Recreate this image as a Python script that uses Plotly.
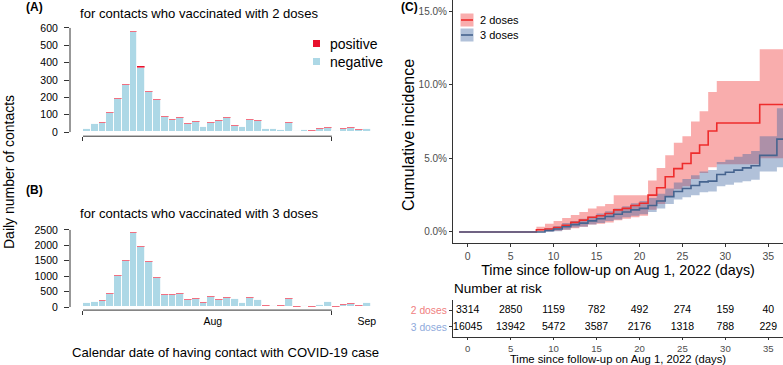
import plotly.graph_objects as go

W, H = 783, 365

# ---------------- data: panels A and B (daily contacts) ----------------
day_index = list(range(38))            # bar slots (one per calendar day)
neg_2 = [16, 45, 52, 109, 191, 272, 576, 372, 232, 185, 87, 72, 80, 47, 57, 29, 53, 62, 84,
         37, 28, 69, 66, 16, 16, 12, 55, 7, 11, 9, 18, 27, 7, 18, 26, 15, 17, 0]
pos_2 = [4, 5, 5, 6, 7, 8, 9, 8, 8, 7, 6, 6, 6, 5, 6, 4, 5, 6, 6,
         5, 4, 6, 6, 4, 4, 3, 5, 3, 4, 3, 4, 5, 3, 4, 4, 3, 3, 2]
neg_3 = [130, 153, 200, 430, 1007, 1493, 2402, 1935, 1463, 940, 385, 388, 433, 239, 262, 148, 325,
         239, 290, 251, 130, 290, 220, 50, 33, 47, 266, 17, 21, 17, 62, 160, 16, 77, 115, 52, 130, 0]
pos_3 = [20, 22, 25, 30, 38, 42, 48, 45, 42, 38, 30, 30, 32, 26, 28, 22, 30,
         26, 28, 26, 20, 28, 25, 15, 14, 15, 26, 13, 14, 13, 16, 22, 14, 18, 20, 16, 20, 10]
month_ticks = [0, 32]                  # Aug 1 / Sep 1 boundaries
month_label_pos = [16.7, 36.5]
month_labels = ["Aug", "Sep"]
yticks_2 = [0, 100, 200, 300, 400, 500, 600]
yticks_3 = [0, 500, 1000, 1500, 2000, 2500]

# ---------------- data: panel C (cumulative incidence, %) ----------------
t_2 = [-1, 8, 9, 10, 11, 12, 13, 14, 15, 16, 17, 18, 19, 20, 21, 22, 23, 24, 25, 26, 27, 28, 29, 34, 37]
est_2 = [0, 0.15, 0.2, 0.3, 0.45, 0.65, 0.8, 1.0, 1.1, 1.25, 1.5, 1.6, 1.8, 1.95, 2.5, 3.0, 3.75, 4.3,
         4.65, 5.35, 5.9, 6.85, 7.4, 8.65, 8.65]
up_2 = [0, 0.35, 0.55, 0.75, 0.95, 1.15, 1.35, 1.6, 1.75, 1.9, 2.5, 2.5, 2.5, 2.5, 3.5, 4.35, 5.2, 6.05,
        6.5, 7.5, 8.2, 9.5, 10.25, 12.4, 12.4]
lo_2 = [0, 0.02, 0.05, 0.08, 0.15, 0.25, 0.35, 0.5, 0.55, 0.65, 0.8, 0.9, 1.0, 1.1, 1.5, 1.9, 2.4, 2.9,
        3.1, 3.6, 4.0, 4.4, 4.6, 5.0, 5.0]
t_3 = [-1, 9, 10, 11, 12, 13, 14, 15, 16, 17, 18, 19, 20, 21, 22, 23, 24, 25, 26, 27, 28, 29, 30, 31, 32,
       33, 34, 36, 37]
est_3 = [0, 0.1, 0.2, 0.35, 0.5, 0.6, 0.75, 0.9, 1.05, 1.2, 1.35, 1.5, 1.6, 1.8, 2.1, 2.4, 2.75, 2.95,
         3.15, 3.4, 3.45, 3.9, 4.05, 4.2, 4.35, 4.5, 5.2, 6.3, 6.3]
up_3 = [0, 0.25, 0.4, 0.6, 0.75, 0.9, 1.05, 1.25, 1.4, 1.6, 1.75, 1.95, 2.1, 2.3, 2.6, 2.95, 3.35, 3.6,
        3.85, 4.1, 4.2, 4.75, 4.9, 5.1, 5.3, 5.5, 6.5, 8.4, 8.4]
lo_3 = [0, 0.0, 0.05, 0.15, 0.3, 0.35, 0.5, 0.6, 0.75, 0.85, 1.0, 1.1, 1.2, 1.35, 1.6, 1.9, 2.2, 2.35,
        2.5, 2.7, 2.75, 3.1, 3.2, 3.35, 3.45, 3.55, 4.1, 4.4, 4.4]
ci_ticks = [0, 5, 10, 15]
time_ticks = [0, 5, 10, 15, 20, 25, 30, 35]

# ---------------- data: number at risk ----------------
risk_times = [0, 5, 10, 15, 20, 25, 30, 35]
risk_2 = [3314, 2850, 1159, 782, 492, 274, 159, 40]
risk_3 = [16045, 13942, 5472, 3587, 2176, 1318, 788, 229]
groups = ["2 doses", "3 doses"]

# ---------------- styles ----------------
FONT = "Liberation Sans, Arial, sans-serif"
C_NEG = "#ADD8E6"
C_POS = "#E8112D"
C_RED = "#EE2C2C"
C_BLUE = "#46648F"
F_RED = "rgba(240,60,60,0.42)"
F_BLUE = "rgba(60,100,160,0.40)"
AX = "#333333"


def px(x):
    return x / W


def py(y):
    return 1 - y / H


fig = go.Figure()

xc = [i + 0.5 for i in day_index]
# panel A bars
fig.add_trace(go.Bar(x=xc, y=neg_2, marker=dict(color=C_NEG, line=dict(color="white", width=0.8)),
                     width=1, xaxis="x", yaxis="y", name="negative"))
fig.add_trace(go.Bar(x=xc, y=pos_2, marker=dict(color=C_POS, line=dict(color="white", width=0.4)),
                     width=1, xaxis="x", yaxis="y", name="positive"))
# panel B bars
fig.add_trace(go.Bar(x=xc, y=neg_3, marker=dict(color=C_NEG, line=dict(color="white", width=0.8)),
                     width=1, xaxis="x2", yaxis="y2", name="negative"))
fig.add_trace(go.Bar(x=xc, y=pos_3, marker=dict(color=C_POS, line=dict(color="white", width=0.4)),
                     width=1, xaxis="x2", yaxis="y2", name="positive"))

# panel C bands and lines
for t, lo, up, fc in [(t_2, lo_2, up_2, F_RED), (t_3, lo_3, up_3, F_BLUE)]:
    fig.add_trace(go.Scatter(x=t, y=lo, mode="lines", line=dict(width=0, shape="hv"),
                             xaxis="x3", yaxis="y3", hoverinfo="skip"))
    fig.add_trace(go.Scatter(x=t, y=up, mode="lines", line=dict(width=0, shape="hv"), fill="tonexty",
                             fillcolor=fc, xaxis="x3", yaxis="y3", hoverinfo="skip"))
fig.add_trace(go.Scatter(x=t_2, y=est_2, mode="lines", line=dict(color=C_RED, width=1.6, shape="hv"),
                         xaxis="x3", yaxis="y3"))
fig.add_trace(go.Scatter(x=t_3, y=est_3, mode="lines", line=dict(color=C_BLUE, width=1.6, shape="hv"),
                         xaxis="x3", yaxis="y3"))

# number-at-risk table
fig.add_trace(go.Scatter(x=risk_times, y=[2] * len(risk_times), mode="text", text=[str(v) for v in risk_2],
                         textfont=dict(size=10.5, color="black", family=FONT), xaxis="x4", yaxis="y4"))
fig.add_trace(go.Scatter(x=risk_times, y=[1] * len(risk_times), mode="text", text=[str(v) for v in risk_3],
                         textfont=dict(size=10.5, color="black", family=FONT), xaxis="x4", yaxis="y4"))

bar_x_range = [-1.67, 39.52]
bar_x_dom = [px(70), px(390.3)]
km_x_range = [-1.71, 36.71]
km_x_dom = [px(453), 1.0]

common_bar_x = dict(range=bar_x_range, domain=bar_x_dom, showgrid=False, zeroline=False, showline=False,
                    tickmode="array", ticks="", automargin=False,
                    minor=dict(tickmode="array", tickvals=month_ticks, ticks="outside", ticklen=4,
                               tickcolor=AX, tickwidth=1, showgrid=False),
                    tickfont=dict(size=10.5, color="black", family=FONT), ticklabelstandoff=3)

fig.update_layout(
    width=W, height=H, margin=dict(l=0, r=0, t=0, b=0, autoexpand=False),
    paper_bgcolor="white", plot_bgcolor="white", showlegend=False,
    barmode="stack", bargap=0,
    font=dict(family=FONT, color="black"),
    xaxis=dict(common_bar_x, anchor="y", tickvals=[], showticklabels=False),
    yaxis=dict(domain=[py(136.2), py(23.8)], range=[-24, 624], tickmode="array", tickvals=yticks_2,
               ticks="outside", ticklen=5, tickcolor=AX, showgrid=False, zeroline=False, showline=False,
               tickfont=dict(size=10.5, color="black"), ticklabelstandoff=4, anchor="x", automargin=False),
    xaxis2=dict(common_bar_x, anchor="y2", tickvals=month_label_pos, ticktext=month_labels),
    yaxis2=dict(domain=[py(310.1), py(226.9)], range=[-100, 2600], tickmode="array", tickvals=yticks_3,
                ticks="outside", ticklen=5, tickcolor=AX, showgrid=False, zeroline=False, showline=False,
                tickfont=dict(size=10.5, color="black"), ticklabelstandoff=4, anchor="x2", automargin=False),
    xaxis3=dict(domain=km_x_dom, range=km_x_range, anchor="y3", tickmode="array", tickvals=time_ticks,
                ticks="outside", ticklen=3, tickcolor=AX, showline=True, linecolor=AX, linewidth=1.1,
                showgrid=False, zeroline=False, tickfont=dict(size=10.5, color="#4D4D4D"), automargin=False,
                title=dict(text="Time since follow-up on Aug 1, 2022 (days)", font=dict(size=14.3), standoff=0)),
    yaxis3=dict(domain=[py(243), 1.0], range=[-0.75, 15.75], anchor="x3", tickmode="array", tickvals=ci_ticks,
                ticktext=[f"{v:.1f}%" for v in ci_ticks], ticks="outside", ticklen=3, tickcolor=AX,
                showline=True, linecolor=AX, linewidth=1.1, showgrid=False, zeroline=False, automargin=False,
                tickfont=dict(size=10, color="#4D4D4D")),
    xaxis4=dict(domain=km_x_dom, range=km_x_range, anchor="y4", tickmode="array", tickvals=time_ticks,
                ticks="outside", ticklen=2, tickcolor=AX, showline=True, linecolor=AX, linewidth=1.1,
                showgrid=False, zeroline=False, tickfont=dict(size=9.6, color="#4D4D4D"), automargin=False,
                title=dict(text="Time since follow-up on Aug 1, 2022 (days)", font=dict(size=11.3), standoff=2)),
    yaxis4=dict(domain=[py(337), py(300)], range=[0.4, 2.6], anchor="x4", tickmode="array", tickvals=[2, 1],
                ticktext=['<span style="color:#F08080">2 doses</span>', '<span style="color:#8FAADC">3 doses</span>'],
                ticks="outside", ticklen=3, tickcolor=AX, showline=True, linecolor=AX, linewidth=1.1,
                showgrid=False, zeroline=False, tickfont=dict(size=10.3), automargin=False),
)

shapes = []
# base-R style axis lines for panels A and B (spanning only the tick range)
for xa, ya, ymax in [("x", "y", yticks_2[-1]), ("x2", "y2", yticks_3[-1])]:
    shapes.append(dict(type="line", xref=xa + " domain", yref=ya, x0=0, x1=0, y0=0, y1=ymax,
                       line=dict(color=AX, width=1)))
    shapes.append(dict(type="line", xref=xa, yref=ya + " domain", x0=month_ticks[0], x1=month_ticks[-1],
                       y0=0, y1=0, line=dict(color=AX, width=1)))
# legend keys
shapes.append(dict(type="rect", xref="paper", yref="paper", x0=px(313), x1=px(320), y0=py(47), y1=py(40),
                   fillcolor=C_POS, line=dict(width=0)))
shapes.append(dict(type="rect", xref="paper", yref="paper", x0=px(313), x1=px(320), y0=py(65), y1=py(58),
                   fillcolor=C_NEG, line=dict(width=0)))
for yc, fc, lc in [(20, F_RED, C_RED), (35, F_BLUE, C_BLUE)]:
    shapes.append(dict(type="rect", xref="paper", yref="paper", x0=px(460.5), x1=px(473.5), y0=py(yc + 6.5),
                       y1=py(yc - 6.5), fillcolor=fc, line=dict(width=0)))
    shapes.append(dict(type="line", xref="paper", yref="paper", x0=px(461), x1=px(473), y0=py(yc), y1=py(yc),
                       line=dict(color=lc, width=1.6)))
fig.update_layout(shapes=shapes)

ann = []


def text(x, y, s, size, xanchor="left", yanchor="middle", angle=0, color="black", bold=False):
    ann.append(dict(x=px(x), y=py(y), xref="paper", yref="paper", text=(f"<b>{s}</b>" if bold else s),
                    showarrow=False, xanchor=xanchor, yanchor=yanchor, textangle=angle,
                    font=dict(size=size, color=color, family=FONT)))


text(24, 7, "(A)", 12, bold=True)
text(24, 190, "(B)", 12, bold=True)
text(399, 7, "(C)", 12, bold=True)
text(199, 14, "for contacts who vaccinated with 2 doses", 13.1, xanchor="center")
text(199, 213, "for contacts who vaccinated with 3 doses", 13.1, xanchor="center")
text(226, 352, "Calendar date of having contact with COVID-19 case", 13.1, xanchor="center")
text(9, 172, "Daily number of contacts", 14, xanchor="center", angle=-90)
text(328, 44, "positive", 14)
text(328, 62, "negative", 14)
text(409, 135, "Cumulative incidence", 16, xanchor="center", angle=-90)
text(478, 20, groups[0], 11)
text(478, 35, groups[1], 11)
text(452, 288, "Number at risk", 13.5)
fig.update_layout(annotations=ann)

fig.write_html("out.html", config={"displayModeBar": False},
               post_script="document.body.style.margin='0';document.body.style.overflow='hidden';")
